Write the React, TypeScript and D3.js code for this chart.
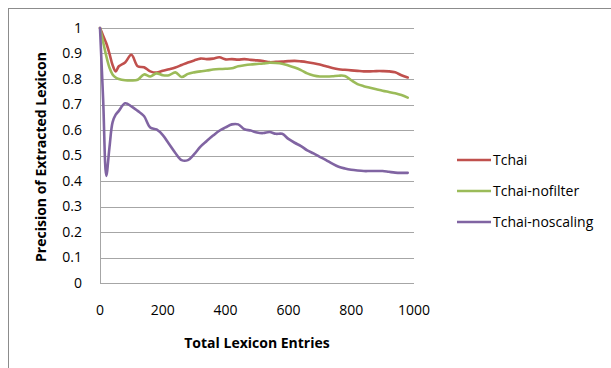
import React from "react";
import * as d3 from "d3";

const entries = [
  0, 10, 20, 30, 40, 50, 60, 80, 100, 120, 140, 160, 180, 200, 220, 240, 260, 280, 300, 320, 340,
  360, 380, 400, 420, 440, 460, 480, 500, 520, 540, 560, 580, 600, 620, 640, 660, 680, 700, 720,
  740, 760, 780, 800, 820, 840, 860, 880, 900, 920, 940, 960, 980,
];

const tchai = [
  1.0, 0.97, 0.94, 0.9, 0.855, 0.83, 0.85, 0.865, 0.895, 0.85, 0.846, 0.83, 0.825, 0.832, 0.838,
  0.845, 0.855, 0.865, 0.873, 0.88, 0.878, 0.88, 0.885, 0.877, 0.878, 0.876, 0.878, 0.875, 0.873,
  0.87, 0.866, 0.867, 0.868, 0.87, 0.871, 0.869, 0.866, 0.862, 0.857, 0.85, 0.843, 0.838, 0.836,
  0.834, 0.832, 0.83, 0.83, 0.831, 0.831, 0.83, 0.826, 0.815, 0.806,
];

const tchaiNofilter = [
  1.0, 0.945, 0.89, 0.845, 0.818, 0.806, 0.8, 0.795, 0.794, 0.797, 0.818, 0.81, 0.822, 0.815,
  0.815, 0.826, 0.808, 0.82, 0.826, 0.83, 0.833, 0.837, 0.839, 0.84, 0.842, 0.85, 0.854, 0.857,
  0.859, 0.861, 0.864, 0.863, 0.86, 0.853, 0.845, 0.835, 0.822, 0.814, 0.81, 0.81, 0.811, 0.813,
  0.812, 0.795, 0.78, 0.772, 0.766, 0.76, 0.754, 0.749, 0.744, 0.737, 0.727,
];

const tchaiNoscaling = [
  1.0, 0.72, 0.42, 0.53, 0.63, 0.66, 0.675, 0.705, 0.693, 0.675, 0.655, 0.61, 0.602, 0.58, 0.545,
  0.51, 0.482, 0.482, 0.505, 0.535, 0.557, 0.578, 0.597, 0.61, 0.622, 0.622, 0.603, 0.598, 0.59,
  0.588, 0.592, 0.585, 0.585, 0.565, 0.55, 0.537, 0.52, 0.508, 0.495, 0.482, 0.468, 0.456, 0.449,
  0.444, 0.441, 0.439, 0.439, 0.439, 0.439, 0.436, 0.433, 0.432, 0.432,
];

const seriesNames = ["Tchai", "Tchai-nofilter", "Tchai-noscaling"];
const seriesColors = ["#C0504D", "#9BBB59", "#8064A2"];
const xTicks = [0, 200, 400, 600, 800, 1000];
const yTicks = [0, 0.1, 0.2, 0.3, 0.4, 0.5, 0.6, 0.7, 0.8, 0.9, 1];

const font = "'Open Sans', sans-serif";

export default function App() {
  const x = d3.scaleLinear().domain([0, 1000]).range([100, 414]);
  const y = d3.scaleLinear().domain([0, 1]).range([283, 28]);
  const all = [tchai, tchaiNofilter, tchaiNoscaling];
  const line = d3
    .line<number>()
    .x((_, i) => x(entries[i]))
    .y((d) => y(d))
    .curve(d3.curveCatmullRom.alpha(0.5));

  return (
    <svg
      width={611}
      height={368}
      style={{ position: "absolute", left: 0, top: 0 }}
      fontFamily={font}
    >
      <rect x={0} y={0} width={611} height={368} fill="#fff" />
      <rect x={8.5} y={8.5} width={800} height={600} fill="none" stroke="#8c8c8c" strokeWidth={1} />

      {/* gridlines */}
      {yTicks.slice(1).map((t) => (
        <line key={t} x1={100} x2={414} y1={Math.round(y(t)) + 0.5} y2={Math.round(y(t)) + 0.5} stroke="#a6a6a6" />
      ))}
      <line x1={100.5} x2={100.5} y1={28} y2={283} stroke="#a6a6a6" />
      <line x1={100} x2={414} y1={283.5} y2={283.5} stroke="#a6a6a6" />

      {yTicks.map((t) => (
        <text key={t} x={82} y={y(t)} dy="0.35em" textAnchor="end" fontSize={14} fill="#000">
          {d3.format("~g")(t)}
        </text>
      ))}
      {xTicks.map((t) => (
        <text key={t} x={x(t)} y={310} dy="0.35em" textAnchor="middle" fontSize={14} fill="#000">
          {t}
        </text>
      ))}

      {all.map((s, i) => (
        <path key={i} d={line(s) ?? ""} fill="none" stroke={seriesColors[i]} strokeWidth={2.6} strokeLinejoin="round" strokeLinecap="round" />
      ))}

      <text x={257} y={343} dy="0.35em" textAnchor="middle" fontSize={14} fontWeight="bold">
        Total Lexicon Entries
      </text>
      <text
        transform={`translate(41,157) rotate(-90)`}
        dy="0.35em"
        textAnchor="middle"
        fontSize={14}
        fontWeight="bold"
      >
        Precision of Extracted Lexicon
      </text>

      {seriesNames.map((n, i) => (
        <g key={n} transform={`translate(457,${160 + i * 31})`}>
          <line x1={0} x2={34} y1={0} y2={0} stroke={seriesColors[i]} strokeWidth={2.6} />
          <text x={36} y={0} dy="0.35em" fontSize={14}>
            {n}
          </text>
        </g>
      ))}
    </svg>
  );
}
